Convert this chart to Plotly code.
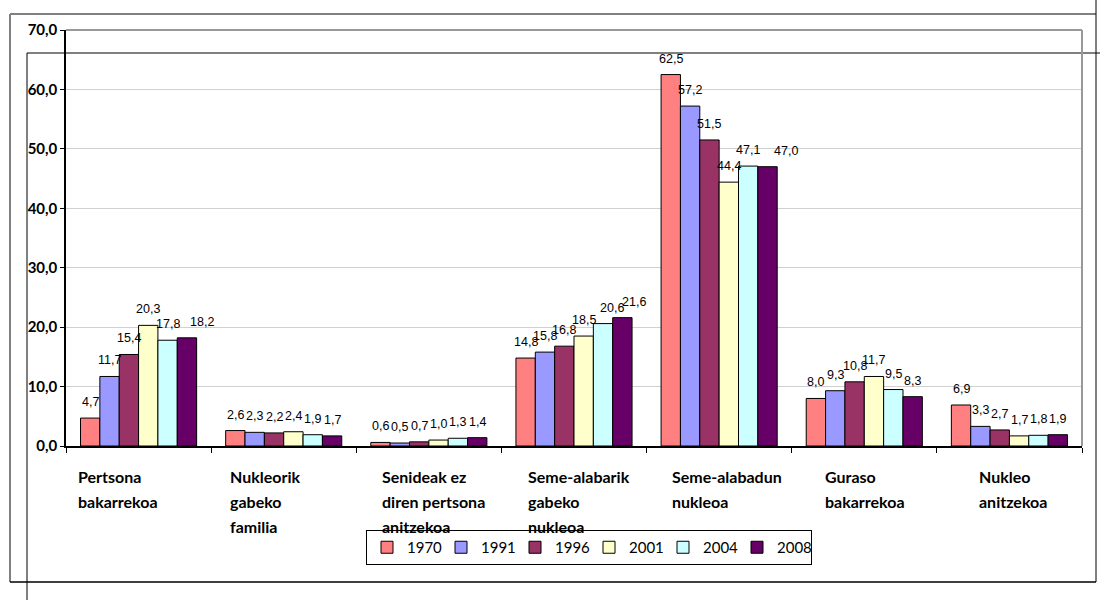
import plotly.graph_objects as go

categories = [
    "Pertsona\nbakarrekoa",
    "Nukleorik\ngabeko\nfamilia",
    "Senideak ez\ndiren pertsona\nanitzekoa",
    "Seme-alabarik\ngabeko\nnukleoa",
    "Seme-alabadun\nnukleoa",
    "Guraso\nbakarrekoa",
    "Nukleo\nanitzekoa",
]
years = ["1970", "1991", "1996", "2001", "2004", "2008"]
v1970 = [4.7, 2.6, 0.6, 14.8, 62.5, 8.0, 6.9]
v1991 = [11.7, 2.3, 0.5, 15.8, 57.2, 9.3, 3.3]
v1996 = [15.4, 2.2, 0.7, 16.8, 51.5, 10.8, 2.7]
v2001 = [20.3, 2.4, 1.0, 18.5, 44.4, 11.7, 1.7]
v2004 = [17.8, 1.9, 1.3, 20.6, 47.1, 9.5, 1.8]
v2008 = [18.2, 1.7, 1.4, 21.6, 47.0, 8.3, 1.9]
series = [v1970, v1991, v1996, v2001, v2004, v2008]
y_ticks = [0, 10, 20, 30, 40, 50, 60, 70]

# styling / layout
colors = ["#FF8080", "#9999FF", "#993366", "#FFFFCC", "#CCFFFF", "#660066"]
W, H = 1100, 600
L, R, T, B = 66, 1082, 30, 446  # plot area pixel box
label_left_px = [76, 228, 380, 526, 670, 823, 977]
label_nudge_px = {(5, 0): 15, (4, 3): 9, (5, 3): 12, (5, 4): 18}
bar_px = (R - L) / len(categories) * 0.8 / len(years)


def px(x):
    return (x - L) / (R - L)


def py(y):
    return (B - y) / (B - T)


cat_keys = [c.replace("\n", " ") for c in categories]

fig = go.Figure()
for yr, vals, col in zip(years, series, colors):
    fig.add_trace(go.Bar(
        name=yr, x=cat_keys, y=vals,
        marker=dict(color=col, line=dict(color="#000000", width=1)),
        hoverinfo="x+y+name",
    ))

annotations = []
for i, vals in enumerate(series):
    for j, (c, v) in enumerate(zip(cat_keys, vals)):
        annotations.append(dict(
            x=c, y=v, xref="x", yref="y", text=f"{v:.1f}".replace(".", ","),
            showarrow=False, yanchor="bottom", xanchor="center",
            xshift=(i - 2.5) * bar_px + label_nudge_px.get((i, j), 0), yshift=7,
            font=dict(family="Liberation Sans, Arial", size=12.5, color="#000000"),
        ))

for lp, cat in zip(label_left_px, categories):
    for k, line in enumerate(cat.split("\n")):
        annotations.append(dict(
            x=px(lp), y=py(476 + 25 * k), xref="paper", yref="paper",
            text=line, showarrow=False, xanchor="left", yanchor="middle",
            font=dict(family="Lato, Open Sans, sans-serif", size=16, color="#000000", weight="bold"),
        ))

shapes = []


def seg(x0, y0, x1, y1, color, width):
    shapes.append(dict(type="line", xref="paper", yref="paper",
                       x0=px(x0), y0=py(y0), x1=px(x1), y1=py(y1),
                       line=dict(color=color, width=width), layer="above"))


# outer frames
seg(10, 14, 1096, 14, "#808080", 2)
seg(10, 14, 10, 582, "#808080", 2)
seg(1096, 0, 1096, 582, "#000000", 1)
seg(10, 582, 1096, 582, "#000000", 1.5)
seg(27, 53, 1100, 53, "#000000", 1)
seg(27, 53, 27, 600, "#000000", 1)
# plot area border (top / right)
seg(L, T, R, T, "#999999", 2)
seg(R, T, R, B, "#999999", 2)

fig.update_layout(
    width=W, height=H,
    margin=dict(l=L, r=W - R, t=T, b=H - B, pad=0),
    paper_bgcolor="#FFFFFF", plot_bgcolor="#FFFFFF",
    barmode="group", bargap=0.2, bargroupgap=0,
    separators=",.",
    showlegend=True,
    legend=dict(
        orientation="h", x=px(366), y=py(530), xanchor="left", yanchor="top",
        bgcolor="#FFFFFF", bordercolor="#000000", borderwidth=1,
        font=dict(family="Lato, Open Sans, sans-serif", size=15, color="#000000"),
        itemwidth=30, entrywidth=29, traceorder="normal",
    ),
    xaxis=dict(
        showticklabels=False, showline=True, linecolor="#000000", linewidth=1.5,
        ticks="outside", ticklen=5, tickcolor="#000000", tickson="boundaries",
        showgrid=False, zeroline=False, fixedrange=True,
    ),
    yaxis=dict(
        range=[0, 70], tickvals=y_ticks, tickformat=".1f",
        showline=True, linecolor="#000000", linewidth=1.5,
        ticks="outside", ticklen=4, tickcolor="#000000",
        showgrid=True, gridcolor="#D0D0D0", gridwidth=1, zeroline=False,
        tickfont=dict(family="Lato, Open Sans, sans-serif", size=15, color="#000000", weight="bold"),
    ),
    annotations=annotations,
    shapes=shapes,
)

fig.write_html(
    "out.html",
    config={"displayModeBar": False},
    post_script="document.body.style.margin='0';document.body.style.overflow='hidden';",
)
